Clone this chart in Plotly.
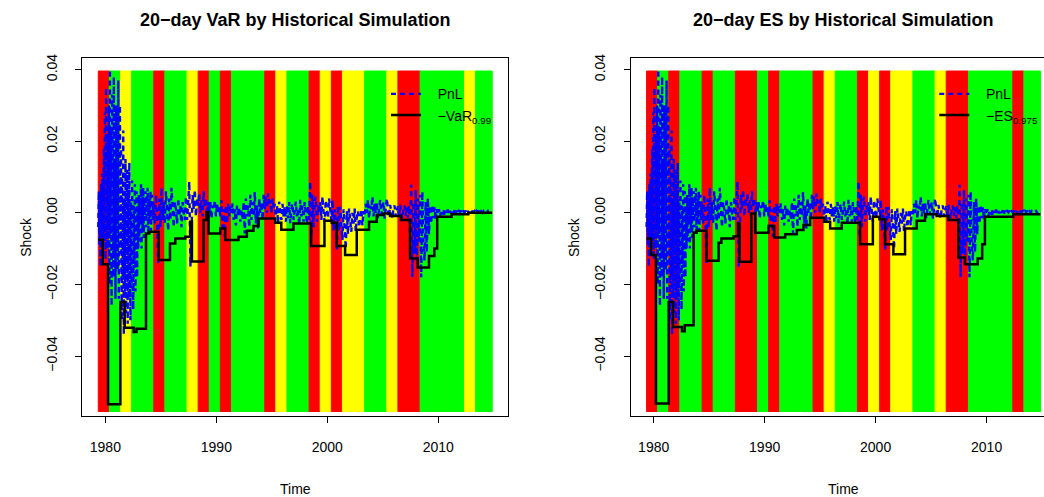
import numpy as np
import plotly.graph_objects as go

# ---------------------------------------------------------------------------
# Data
# ---------------------------------------------------------------------------
# Annual backtesting windows (start year) and their traffic-light zone
BAND_YEARS = list(range(1979, 2015))
BAND_OFFSET = 0.36          # windows start a little after New Year
LAST_DATE = 2014.86         # last observation
BAND_LO, BAND_HI = -0.0555, 0.0396

VAR_ZONES = ["R", "G", "Y", "G", "G", "R", "G", "G", "Y", "R",
             "G", "R", "G", "G", "G", "R", "Y", "G", "G", "R",
             "Y", "R", "Y", "Y", "G", "G", "Y", "R", "R", "G",
             "G", "G", "G", "Y", "G", "G"]
ES_ZONES = ["R", "G", "R", "G", "G", "R", "G", "G", "R", "R",
            "G", "R", "G", "G", "G", "R", "Y", "G", "G", "R",
            "Y", "R", "Y", "Y", "G", "G", "Y", "R", "R", "G",
            "G", "G", "G", "R", "G", "G"]
ZONE_COLORS = {"R": "#FF0000", "Y": "#FFFF00", "G": "#00FF00"}

# 20-day PnL shocks (units of 1e-3)
# 1979.36 - 1984.31, every 0.05 year
PNL_EARLY_START, PNL_EARLY_STEP = 1979.36, 0.05
PNL_EARLY = [
    -4, 6, -9, 3, -15, 8, -6, 11, -11, 2,
    18, -8, 28, -13, 35, 4, -10, 22, -5, 30,
    -20, 40, -6, 24, -26, 33, 8, -18, 38, -12, 15, -24, 30, -3,
    26, -16, 37, -24, 12, 30, -10, 18,
    -30, 10, -18, 23, -34, 4, -22, 15, -28, -6, 12, -31,
    6, -24, 14, -12, -30, 3, -20, 9, -16, -27,
    2, -14, 8, -22, -4, 6, -18, 0, -10, 5,
    -8, 4, -3, 8, -10, 2, -5, 7, -7, 3, -2, 6,
    -4, 5, -1, 7, -6, 2, 4, -3, 6, -5, 1, 5, -2, 3,
]
# 1984.36 - 2014.86, every 0.1 year
PNL_LATE_START, PNL_LATE_STEP = 1984.36, 0.1
PNL_LATE = [
    2, -3, 5, -1, -14, 4, -4, 7, -2, 3,                 # 1984
    -3, 6, 0, -5, 4, -2, 7, 1, -4, 3,                   # 1985
    1, -3, 4, -1, 2, -4, 3, 0, -2, 4.5,                 # 1986
    -2, 3, 8.7, -15, -6, 5, 1, 6.4, -1, 4,              # 1987
    2, 5.5, 0, 3.5, -1, 6, 1.5, 4, -0.5, 3,             # 1988
    0.5, 3, -1.6, 2, 1, 3.5, -1, 2.5, 0, 1.5,           # 1989
    -1, 3.5, -4, 1, -6.7, 2, -3, 2.5, -1, 2,            # 1990
    0, 2.6, -2, 1, -3.5, 2, -1, 1.5, -2.5, 1,           # 1991
    -2, 3, -5.8, 4, -1, 2, -4, 5, -2, 3,                # 1992
    -1, 5.8, -3, 2, -4.4, 4, 0, 3, -2, 5,               # 1993
    1, 4.5, 0, 5.4, 2, 3.5, -0.2, 4, 1, 2.5,            # 1994
    -1, 2, -2.9, 3.1, 0, -2, 2.5, -1, 1.5, -2.5,        # 1995
    2, -1.5, 3, -2.9, 1, 2.5, -2, 0.5, 3.1, -1,         # 1996
    1, -3.4, 3.6, -1, 2, -2.5, 3, 0, -3, 2,             # 1997
    -2, 8.7, -6.7, 5, -4, 3, 4.5, -2.5, 2, 0,           # 1998
    3, -2, 4.5, 0, -2.5, 3.5, 1, -1.5, 4, 0.5,          # 1999
    -2, 3.6, -4.9, 1, -3, -10.4, 2, -5, 1.7, -3,        # 2000
    -7.6, 1, -4, -10, 0.5, -6, 1.2, -3, -5.3, 0,        # 2001
    -3, 1.2, -5.3, -1, 0.5, -4, -2, 1, -3.5, 0.5,       # 2002
    -1, 2.5, 0, 3.6, -1.6, 2, 1, 4.5, -1, 2.5,          # 2003
    0, 3, -1.5, 2, 3.6, -0.5, 1.5, 3, -1.6, 2,          # 2004
    4, 1, -1.2, 2.2, 0, -1.6, 1.5, 2, -1, 0.5,          # 2005
    1.8, -1.2, 2.2, 0, -1.6, 1, 2, -0.8, 1.5, -1.4,     # 2006
    2, -6, 7.8, -17.9, 3, -11.4, 6.4, -13.3, 4, -8,     # 2007
    5, -18, 5.9, -9, -13.3, 3, -11, 4, -6, 2,           # 2008
    -3, 2.2, -1.5, 1.5, -2, 1, -0.5, 1, -0.9, 0.8,      # 2009
    -0.5, 1, -0.9, 0.6, -0.3, 0.9, -0.6, 0.5, -0.2, 0.7,  # 2010
    0, 0.7, -0.4, 0.6, -0.2, 0.5, 0.1, 0.6, -0.2, 0.4,  # 2011
    0.1, 0.6, -0.2, 0.5, 0, 0.6, -0.1, 0.4, 0.2, 0.5,   # 2012
    -0.1, 0.5, 0.1, 0.6, -0.2, 0.4, 0, 0.5, 0.1, 0.3,   # 2013
    0.2, 0.5, -0.1, 0.4, 0.1, 0.3,                      # 2014
]

# -VaR(0.99): level changes (time, value)
VAR_T = [1979.36, 1979.76, 1980.24, 1981.35, 1981.74, 1982.55, 1982.8, 1983.66,
         1983.96, 1984.8, 1985.82, 1986.3, 1987.2, 1987.65, 1987.8, 1988.85,
         1989.1, 1989.3, 1990.35, 1990.8, 1992.0, 1992.75, 1993.35, 1993.8,
         1995.3, 1995.85, 1996.95, 1998.54, 1999.74, 2000.4, 2000.85, 2001.6,
         2002.65, 2003.76, 2004.45, 2005.05, 2005.65, 2006.64, 2007.45, 2008.14,
         2009.16, 2009.64, 2009.9, 2011.2, 2012.7, 2014.86]
VAR_V = [-0.0075, -0.0144, -0.0535, -0.0249, -0.0321, -0.0333, -0.0324, -0.0058,
         -0.0053, -0.0132, -0.0086, -0.0072, -0.0067, -0.0025, -0.0136, -0.0020,
         0.0002, -0.0058, -0.0044, -0.0076, -0.0067, -0.0050, -0.0037, -0.0016,
         -0.0028, -0.0047, -0.0030, -0.0093, -0.0022, -0.0028, -0.0093, -0.0118,
         -0.0047, -0.0025, -0.0006, -0.0002, -0.0009, -0.0020, -0.0128, -0.0153,
         -0.0121, -0.0100, -0.0011, -0.0004, 0.0000, 0.0000]

# -ES(0.975): level changes (time, value)
ES_T = [1979.36, 1979.77, 1980.2, 1981.35, 1981.75, 1982.55, 1982.8, 1983.6,
        1983.85, 1984.75, 1985.85, 1986.1, 1987.2, 1987.6, 1987.74, 1988.8,
        1989.15, 1990.35, 1990.86, 1991.85, 1992.9, 1993.5, 1994.1, 1995.36,
        1995.9, 1996.95, 1998.6, 1999.75, 2000.35, 2000.85, 2001.6, 2002.65,
        2003.7, 2004.45, 2005.5, 2006.55, 2007.45, 2008.05, 2009.2, 2009.6,
        2009.85, 2012.4, 2014.86]
ES_V = [-0.0072, -0.0118, -0.0533, -0.0249, -0.0319, -0.0331, -0.0314, -0.0055,
        -0.0050, -0.0134, -0.0084, -0.0072, -0.0066, -0.0030, -0.0137, -0.0002,
        -0.0056, -0.0037, -0.0069, -0.0060, -0.0048, -0.0034, -0.0014, -0.0025,
        -0.0044, -0.0028, -0.0088, -0.0011, -0.0018, -0.0088, -0.0116, -0.0044,
        -0.0022, -0.0004, -0.0009, -0.0020, -0.0125, -0.0144, -0.0128, -0.0088,
        -0.0011, -0.0004, -0.0004]

X_TICKS = [1980, 1990, 2000, 2010]
Y_TICKS = [-0.04, -0.02, 0.0, 0.02, 0.04]
Y_TICKTEXT = ["\u22120.04", "\u22120.02", "0.00", "0.02", "0.04"]

# ---------------------------------------------------------------------------
# Series assembly
# ---------------------------------------------------------------------------
pnl_t = np.concatenate([
    PNL_EARLY_START + PNL_EARLY_STEP * np.arange(len(PNL_EARLY)),
    PNL_LATE_START + PNL_LATE_STEP * np.arange(len(PNL_LATE)),
])
pnl_v = np.concatenate([PNL_EARLY, PNL_LATE]) / 1000.0

# ---------------------------------------------------------------------------
# Layout geometry (pixels)
# ---------------------------------------------------------------------------
W, H = 1044, 497
TOP, BOTTOM = 57.7, 415.7
L_LEFT, L_RIGHT = 82.3, 508.0
R_LEFT = 630.6
PX_PER_YEAR = (L_RIGHT - L_LEFT) / (2016.28 - 1977.92)
X_RANGE_L = [1977.92, 2016.28]
X_RANGE_R = [1977.92, 1977.92 + (W - R_LEFT) / PX_PER_YEAR]
Y_RANGE = [-0.05676, 0.04324]

FONT = "Liberation Sans, Arial, Helvetica, sans-serif"
PAD = "\u00a0\u00a0\u00a0"   # gap between legend key and its label

fig = go.Figure()

panels = [
    dict(xa="x", ya="y", zones=VAR_ZONES, rt=VAR_T, rv=VAR_V, legend="legend",
         risk_name=PAD + "\u2212VaR<sub>0.99</sub>"),
    dict(xa="x2", ya="y2", zones=ES_ZONES, rt=ES_T, rv=ES_V, legend="legend2",
         risk_name=PAD + "\u2212ES<sub>0.975</sub>"),
]

shapes = []
for p in panels:
    for yr, z in zip(BAND_YEARS, p["zones"]):
        x0 = yr + BAND_OFFSET
        x1 = min(x0 + 1.0, LAST_DATE)
        col = ZONE_COLORS[z]
        # outline in the fill colour so neighbouring bands meet without seams
        shapes.append(dict(type="rect", xref=p["xa"], yref=p["ya"],
                           x0=x0, x1=x1, y0=BAND_LO, y1=BAND_HI,
                           fillcolor=col, line=dict(width=1, color=col),
                           layer="below"))
    fig.add_trace(go.Scatter(
        x=pnl_t, y=pnl_v, mode="lines", name=PAD + "PnL",
        line=dict(color="#0000FF", width=2.4, dash="5px,4px"),
        xaxis=p["xa"], yaxis=p["ya"], legend=p["legend"]))
    fig.add_trace(go.Scatter(
        x=p["rt"], y=p["rv"], mode="lines", name=p["risk_name"],
        line=dict(color="#000000", width=2.5, shape="hv"),
        xaxis=p["xa"], yaxis=p["ya"], legend=p["legend"]))

axis_common = dict(showgrid=False, zeroline=False, showline=True,
                   linecolor="#000000", linewidth=1, ticks="outside",
                   ticklen=6, tickcolor="#000000",
                   tickfont=dict(family=FONT, size=14, color="#000000"))

xdom_l = [L_LEFT / W, L_RIGHT / W]
xdom_r = [R_LEFT / W, 1.0]
LEG_Y = 1 - (78 - TOP) / (BOTTOM - TOP)

fig.update_layout(
    width=W, height=H,
    margin=dict(l=0, r=0, t=TOP, b=H - BOTTOM, pad=0),
    paper_bgcolor="white", plot_bgcolor="white",
    shapes=shapes,
    xaxis=dict(domain=xdom_l, range=X_RANGE_L, tickvals=X_TICKS, mirror=True,
               anchor="y", ticklabelstandoff=12, **axis_common),
    yaxis=dict(domain=[0, 1], range=Y_RANGE, tickvals=Y_TICKS,
               ticktext=Y_TICKTEXT, tickangle=-90, mirror=True, anchor="x",
               ticklabelstandoff=13, **axis_common),
    xaxis2=dict(domain=xdom_r, range=X_RANGE_R, tickvals=X_TICKS, mirror=True,
                anchor="y2", ticklabelstandoff=12, **axis_common),
    yaxis2=dict(domain=[0, 1], range=Y_RANGE, tickvals=Y_TICKS,
                ticktext=Y_TICKTEXT, tickangle=-90, mirror=False, anchor="x2",
                ticklabelstandoff=13, **axis_common),
    legend=dict(x=386 / W, y=LEG_Y,
                xanchor="left", yanchor="top", bgcolor="rgba(0,0,0,0)",
                borderwidth=0, font=dict(family=FONT, size=14, color="#000000")),
    legend2=dict(x=(386 + R_LEFT - L_LEFT) / W, y=LEG_Y,
                 xanchor="left", yanchor="top", bgcolor="rgba(0,0,0,0)",
                 borderwidth=0, font=dict(family=FONT, size=14, color="#000000")),
    showlegend=True,
)


def px_x(x):
    return x / W


def px_y(y):
    # paper y relative to the plotting area
    return 1 - (y - TOP) / (BOTTOM - TOP)


annotations = []
for left, title in [(L_LEFT, "20\u2212day VaR by Historical Simulation"),
                    (R_LEFT, "20\u2212day ES by Historical Simulation")]:
    cx = left + (L_RIGHT - L_LEFT) / 2
    annotations.append(dict(text="<b>%s</b>" % title, x=px_x(cx), y=px_y(20),
                            xref="paper", yref="paper", showarrow=False,
                            xanchor="center", yanchor="middle",
                            font=dict(family=FONT, size=18, color="#000000")))
    annotations.append(dict(text="Time", x=px_x(cx), y=px_y(489),
                            xref="paper", yref="paper", showarrow=False,
                            xanchor="center", yanchor="middle",
                            font=dict(family=FONT, size=14, color="#000000")))
    annotations.append(dict(text="Shock", x=px_x(left - 56.5), y=px_y(236.7),
                            xref="paper", yref="paper", showarrow=False,
                            textangle=-90, xanchor="center", yanchor="middle",
                            font=dict(family=FONT, size=14, color="#000000")))
fig.update_layout(annotations=annotations)

# box edge on the far side of the right panel (runs off the page)
fig.add_shape(type="line", xref="paper", yref="paper",
              x0=(R_LEFT + L_RIGHT - L_LEFT) / W, x1=(R_LEFT + L_RIGHT - L_LEFT) / W,
              y0=0, y1=1, line=dict(color="#000000", width=1))

fig.write_html("out.html")
